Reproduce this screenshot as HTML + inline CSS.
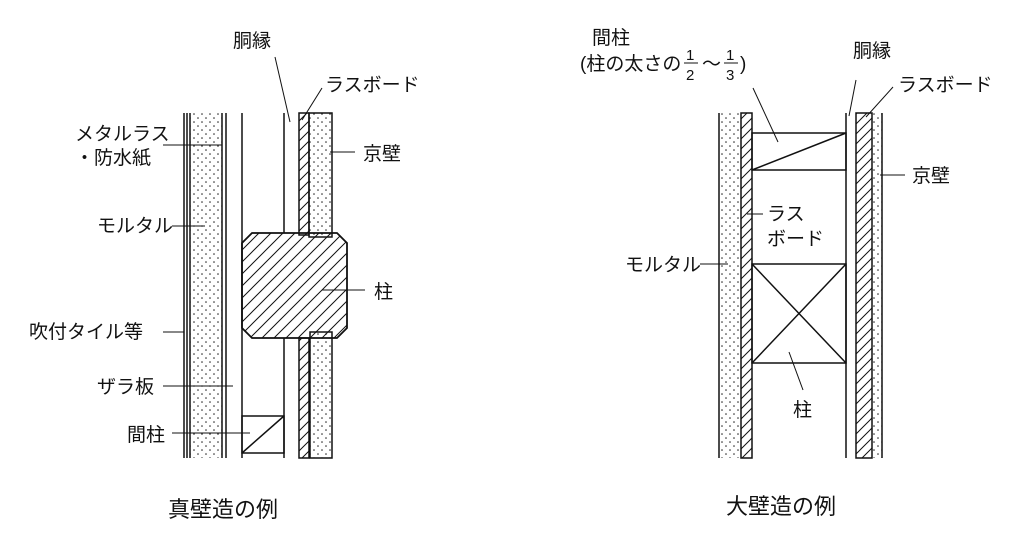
<!DOCTYPE html>
<html><head><meta charset="utf-8"><style>
html,body{margin:0;padding:0;background:#fff;}
svg{display:block}
text{font-family:"Liberation Sans","Noto Sans CJK JP",sans-serif;font-size:19px;fill:#111;}
</style></head><body>
<svg width="1024" height="548" viewBox="0 0 1024 548" xmlns="http://www.w3.org/2000/svg">
<defs>
<pattern id="dots" width="8" height="8" patternUnits="userSpaceOnUse">
<circle cx="2" cy="2" r="0.8" fill="#222"/><circle cx="6" cy="6" r="0.8" fill="#222"/>
</pattern>
<pattern id="hatch" width="10" height="10" patternUnits="userSpaceOnUse">
<path d="M-2,12 L12,-2 M-2,2 L2,-2 M8,12 L12,8" stroke="#111" stroke-width="1"/>
</pattern>
<pattern id="hatch2" width="12" height="12" patternUnits="userSpaceOnUse">
<path d="M-2,14 L14,-2 M-2,2 L2,-2 M10,14 L14,10" stroke="#111" stroke-width="1"/>
</pattern>
</defs>
<g stroke="#111" stroke-width="1.5" fill="none">
<!-- LEFT -->
<rect x="190" y="113" width="32" height="345" fill="url(#dots)" stroke="none"/>
<line x1="184" y1="113" x2="184" y2="458"/>
<line x1="187" y1="113" x2="187" y2="458"/>
<line x1="190" y1="113" x2="190" y2="458"/>
<line x1="222" y1="113" x2="222" y2="458"/>
<line x1="226" y1="113" x2="226" y2="458"/>
<line x1="242" y1="113" x2="242" y2="458"/>
<line x1="284" y1="113" x2="284" y2="233"/>
<line x1="284" y1="338" x2="284" y2="458"/>
<rect x="299" y="113" width="10" height="122" fill="url(#hatch)"/>
<rect x="299" y="338" width="10" height="120" fill="url(#hatch)"/>
<rect x="309" y="113" width="23" height="124" fill="url(#dots)"/>
<rect x="310" y="332" width="22" height="126" fill="url(#dots)"/>
<polygon points="252,233 337,233 347,243 347,328 337,338 252,338 242,328 242,243" fill="url(#hatch2)" stroke-width="1.8"/>
<rect x="242" y="416" width="42" height="37"/>
<line x1="242" y1="453" x2="284" y2="416"/>
<!-- RIGHT -->
<rect x="719" y="113" width="21" height="345" fill="url(#dots)" stroke="none"/>
<line x1="719" y1="113" x2="719" y2="458"/>
<rect x="741" y="113" width="11" height="345" fill="url(#hatch)"/>
<line x1="846" y1="113" x2="846" y2="458"/>
<rect x="856" y="113" width="16" height="345" fill="url(#hatch)"/>
<rect x="872" y="113" width="10" height="345" fill="url(#dots)" stroke="none"/>
<line x1="882" y1="113" x2="882" y2="458"/>
<rect x="752" y="133" width="94" height="37"/>
<line x1="752" y1="170" x2="846" y2="133"/>
<rect x="752" y="264" width="94" height="99"/>
<line x1="752" y1="264" x2="846" y2="363"/>
<line x1="752" y1="363" x2="846" y2="264"/>
</g>
<g stroke="#111" stroke-width="1" fill="none">
<line x1="275" y1="57" x2="290" y2="122"/>
<line x1="322" y1="88" x2="302" y2="120"/>
<line x1="330" y1="152" x2="355" y2="152"/>
<line x1="163" y1="145" x2="222" y2="145"/>
<line x1="172" y1="226" x2="205" y2="226"/>
<line x1="322" y1="290" x2="365" y2="290"/>
<line x1="163" y1="332" x2="184" y2="332"/>
<line x1="163" y1="386" x2="233" y2="386"/>
<line x1="172" y1="433" x2="250" y2="433"/>
<line x1="753" y1="88" x2="778" y2="142"/>
<line x1="856" y1="80" x2="849" y2="116"/>
<line x1="893" y1="87" x2="866" y2="117"/>
<line x1="880" y1="175" x2="905" y2="175"/>
<line x1="747" y1="214" x2="763" y2="214"/>
<line x1="700" y1="264" x2="728" y2="264"/>
<line x1="789" y1="352" x2="803" y2="390"/>
</g>
<text x="233" y="47">胴縁</text>
<text x="325" y="91">ラスボード</text>
<text x="363" y="160">京壁</text>
<text x="75" y="140">メタルラス</text>
<text x="75" y="164">・防水紙</text>
<text x="97" y="232">モルタル</text>
<text x="374" y="298">柱</text>
<text x="29" y="338">吹付タイル等</text>
<text x="97" y="393">ザラ板</text>
<text x="127" y="441">間柱</text>
<text x="592" y="44">間柱</text>
<text x="580" y="70">(柱の太さの</text>
<text x="686" y="60" style="font-size:15px">1</text>
<line x1="684" y1="63" x2="698" y2="63" stroke="#111" stroke-width="1"/>
<text x="686" y="80" style="font-size:15px">2</text>
<text x="702" y="70">〜</text>
<text x="726" y="60" style="font-size:15px">1</text>
<line x1="724" y1="63" x2="738" y2="63" stroke="#111" stroke-width="1"/>
<text x="726" y="80" style="font-size:15px">3</text>
<text x="740" y="70">)</text>
<text x="853" y="57">胴縁</text>
<text x="898" y="91">ラスボード</text>
<text x="912" y="182">京壁</text>
<text x="767" y="220">ラス</text>
<text x="767" y="245">ボード</text>
<text x="625" y="271">モルタル</text>
<text x="793" y="416">柱</text>
<text x="168" y="517" style="font-size:22px">真壁造の例</text>
<text x="726" y="514" style="font-size:22px">大壁造の例</text>
</svg>
</body></html>
